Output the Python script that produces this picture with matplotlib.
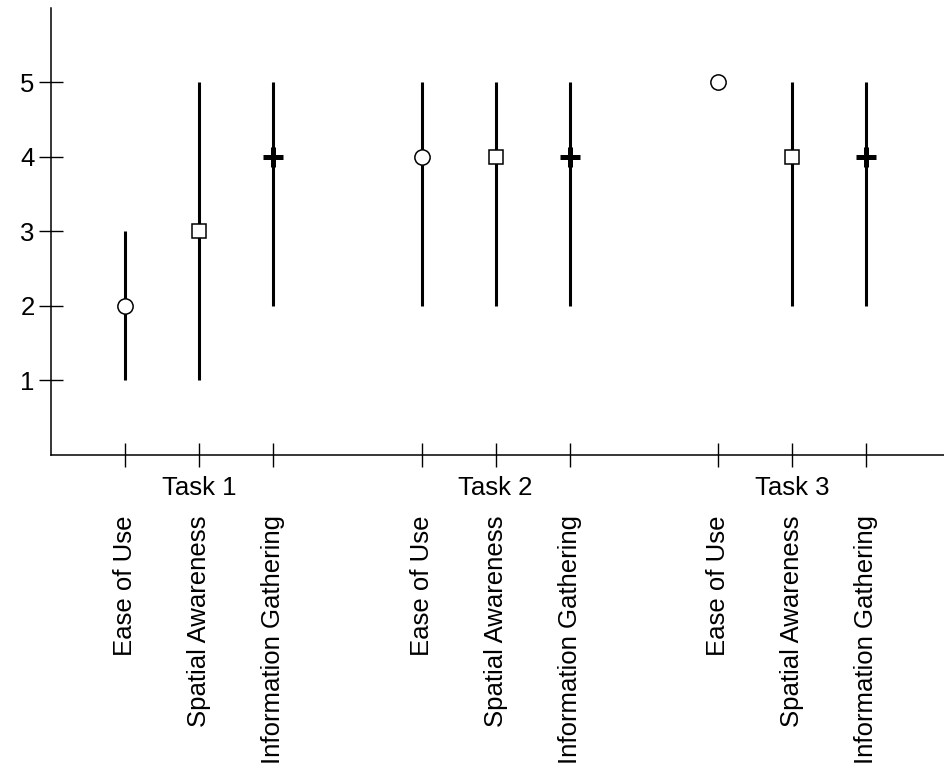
import matplotlib
matplotlib.use("Agg")
import matplotlib.pyplot as plt
from matplotlib.transforms import blended_transform_factory

# ===== Data =====
TASKS = ["Task 1", "Task 2", "Task 3"]
MEASURES = ["Ease of Use", "Spatial Awareness", "Information Gathering"]
MARKERS = ["o", "s", "+"]

# median, low, high per task (rows) and measure (columns)
MEDIANS = [[2, 3, 4],
           [4, 4, 4],
           [5, 4, 4]]
LOWS = [[1, 1, 2],
        [2, 2, 2],
        [5, 2, 2]]
HIGHS = [[3, 5, 5],
         [5, 5, 5],
         [5, 5, 5]]

plt.rcParams['font.family'] = ['Liberation Sans', 'DejaVu Sans']

fig = plt.figure(figsize=(9.44, 7.76), dpi=100)
ax = fig.add_axes([0.054, 0.4143, 0.946, 0.576])

positions = []
labels = []
for t, task in enumerate(TASKS):
    for m, measure in enumerate(MEASURES):
        x = t * 4 + m
        positions.append(x)
        labels.append(measure)
        med = MEDIANS[t][m]
        lo = LOWS[t][m]
        hi = HIGHS[t][m]
        if hi > lo:
            ax.vlines(x, lo, hi, color="black", linewidth=2.2, zorder=2)
        if MARKERS[m] == "+":
            ax.plot(x, med, marker="+", markersize=14, markeredgewidth=3.6,
                    color="black", zorder=3)
        else:
            ax.plot(x, med, marker=MARKERS[m], markersize=11 if MARKERS[m] == "o" else 10.5,
                    markerfacecolor="white", markeredgecolor="black",
                    markeredgewidth=1.1, zorder=3)

ax.set_xlim(-1, 11.05)
ax.set_ylim(0, 6)
ax.set_yticks([1, 2, 3, 4, 5])
ax.set_xticks(positions)
ax.set_xticklabels(labels, rotation=90, fontsize=18.5)

for side in ["top", "right"]:
    ax.spines[side].set_visible(False)
for side in ["left", "bottom"]:
    ax.spines[side].set_linewidth(1.1)

ax.tick_params(axis="both", direction="inout", length=17.3, width=1.0)
ax.tick_params(axis="y", labelsize=18.5, pad=3)
ax.tick_params(axis="x", pad=35)

trans = blended_transform_factory(ax.transData, ax.transAxes)
for t, task in enumerate(TASKS):
    ax.annotate(task, xy=(t * 4 + 1, 0), xycoords=trans,
                xytext=(0, -24), textcoords="offset points",
                ha="center", va="center", fontsize=18.5)

fig.savefig("out.png", dpi=100)
